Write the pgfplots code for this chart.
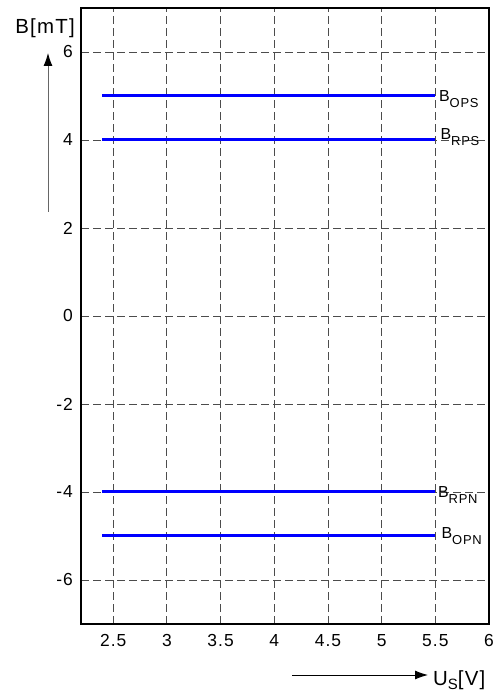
\documentclass[border=0pt]{standalone}
\usepackage{fontspec}
\setmainfont{Liberation Sans}[LetterSpace=6]
\usepackage{pgfplots}
\pgfplotsset{compat=1.18}
\usetikzlibrary{arrows.meta}
\definecolor{lineblue}{RGB}{0,0,255}
\newcommand{\sub}[1]{\raisebox{-6bp}{\fontsize{13}{13}\selectfont #1}}
\newcommand{\lbl}[1]{\fontsize{16}{16}\selectfont B\sub{#1}}

\begin{document}
\begin{tikzpicture}
\path[use as bounding box] (0,0) rectangle (495bp,693bp);
\begin{axis}[
    at={(81bp,69bp)}, anchor=south west,
    width=408bp, height=616bp, scale only axis,
    xmin=2.2, xmax=6, ymin=-7, ymax=7,
    xtick={2.5,3,3.5,4,4.5,5,5.5,6},
    ytick={-6,-4,-2,0,2,4,6},
    major tick length=0pt,
    grid=major,
    major grid style={black!70, line width=0.8bp, dash pattern=on 7.5bp off 4.5bp},
    axis line style={line width=1.2bp},
    ticklabel style={font=\fontsize{17.5}{17.5}\selectfont, inner sep=0pt},
    xticklabel style={anchor=north, yshift=-10bp},
    yticklabel style={anchor=east, xshift=-8bp},
    /pgf/number format/assume math mode=true,
    clip=false,
]
\addplot[lineblue, line width=3bp] coordinates {(2.4,5) (5.5,5)};
\addplot[lineblue, line width=3bp] coordinates {(2.4,4) (5.5,4)};
\addplot[lineblue, line width=3bp] coordinates {(2.4,-4) (5.5,-4)};
\addplot[lineblue, line width=3bp] coordinates {(2.4,-5) (5.5,-5)};
\node[anchor=base west, inner sep=0pt, xshift=3.5bp, yshift=-6bp] at (axis cs:5.5,5) {\lbl{OPS}};
\node[anchor=base west, inner sep=0pt, xshift=5bp, yshift=0bp] at (axis cs:5.5,4) {\lbl{RPS}};
\node[anchor=base west, inner sep=0pt, xshift=2.5bp, yshift=-6bp] at (axis cs:5.5,-4) {\lbl{RPN}};
\node[anchor=base west, inner sep=0pt, xshift=6bp, yshift=-2.5bp] at (axis cs:5.5,-5) {\lbl{OPN}};
\end{axis}
\node[font=\fontsize{20.5}{20.5}\selectfont] at (45bp,665bp) {B[mT]};
\draw[black!60, line width=0.9bp, -{Latex[length=13bp,width=9bp,black]}] (48bp,481bp) -- (48bp,640bp);
\draw[black, line width=0.9bp, -{Latex[length=13bp,width=9bp]}] (292bp,18bp) -- (428bp,18bp);
\node[anchor=base west, inner sep=0pt, font=\fontsize{20.5}{20.5}\selectfont] at (433bp,8bp) {U\raisebox{-0.4ex}{\fontsize{15}{15}\selectfont S}[V]};
\end{tikzpicture}
\end{document}
